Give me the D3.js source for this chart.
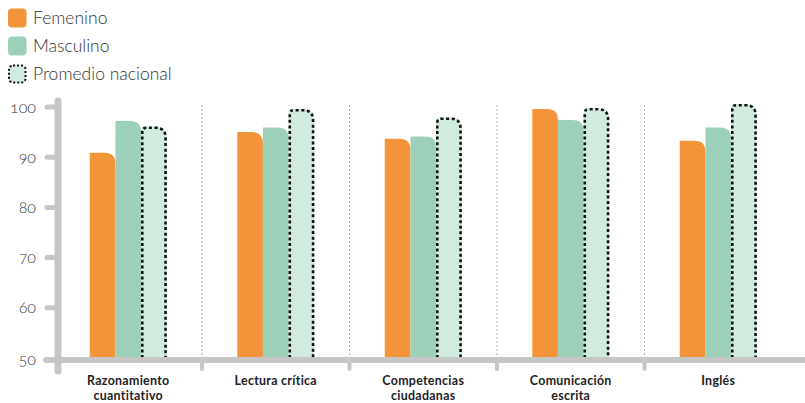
<!DOCTYPE html>
<html><head><meta charset="utf-8">
<script src="https://cdn.jsdelivr.net/npm/d3@7"></script>
<style>
body{margin:0;background:#fff;}
svg{display:block;}
.tick-label{font-family:Lato,sans-serif;font-weight:300;font-size:16px;fill:#333;font-variant-numeric:oldstyle-nums;}
.leg{font-family:Lato,sans-serif;font-weight:300;font-size:17.5px;fill:#333;}
.cat{font-family:Lato,sans-serif;font-weight:700;font-size:12.4px;fill:#222;letter-spacing:0.3px;}
</style></head>
<body>
<svg id="c" width="805" height="403"></svg>
<script>
const categories = [["Razonamiento","cuantitativo"],["Lectura crítica"],["Competencias","ciudadanas"],["Comunicación","escrita"],["Inglés"]];
const series = ["Femenino","Masculino","Promedio nacional"];
const femenino = [90.9, 95.0, 93.7, 99.6, 93.3];
const masculino = [97.2, 95.9, 94.1, 97.4, 95.9];
const promedio = [96.1, 99.6, 97.9, 99.8, 100.6];
const yTicks = [50, 60, 70, 80, 90, 100];
const colors = {"Femenino":"#F4943A","Masculino":"#9DD0B9","Promedio nacional":"#D2EBDF"};

const svg = d3.select("#c");
const catKeys = categories.map(c => c.join(" "));
const x = d3.scaleBand().domain(catKeys).range([54.5, 792]);
const bw = x.bandwidth();
const gW = 77;
const xs = d3.scaleBand().domain(series).range([(bw - gW)/2, (bw + gW)/2]);
const y = d3.scaleLinear().domain([50, 100]).range([358, 107]);
const gray = "#C6C6C6";

// dividers
const divs = catKeys.slice(1).map(k => x(k));
svg.selectAll(".div").data(divs).enter().append("line")
  .attr("x1", d => d).attr("x2", d => d).attr("y1", 105).attr("y2", 358)
  .attr("stroke", "#ADADAD").attr("stroke-width", 1).attr("stroke-dasharray", "2,2");
svg.selectAll(".divstub").data(divs).enter().append("line")
  .attr("x1", d => d).attr("x2", d => d).attr("y1", 360).attr("y2", 369)
  .attr("stroke", gray).attr("stroke-width", 4).attr("stroke-linecap", "round");

// bars
function barPath(x0, w, yTop, yBot, rl, rr, closed) {
  let p = `M${x0},${yBot} L${x0},${yTop + rl} Q${x0},${yTop} ${x0 + rl},${yTop} L${x0 + w - rr},${yTop} Q${x0 + w},${yTop} ${x0 + w},${yTop + rr} L${x0 + w},${yBot}`;
  return closed ? p + "Z" : p;
}
const rows = catKeys.map((k, i) => ({k, vals: [femenino[i], masculino[i], promedio[i]]}));
rows.forEach(r => {
  r.vals.forEach((v, j) => {
    const s = series[j];
    const x0 = x(r.k) + xs(s);
    const w = xs.bandwidth();
    const yt = y(v), yb = y(50);
    if (j < 2) {
      svg.append("path").attr("d", barPath(x0, w, yt, yb, 0, 11, true)).attr("fill", colors[s]);
    } else {
      svg.append("path").attr("d", barPath(x0, w, yt, yb, 4, 11, true)).attr("fill", colors[s]);
      svg.append("path").attr("d", barPath(x0 + 1.2, w - 2.4, yt + 1.2, yb, 4, 10, false))
        .attr("fill", "none").attr("stroke", "#111").attr("stroke-width", 2.6).attr("stroke-dasharray", "3,2.6");
    }
  });
});

// axes
svg.append("line").attr("x1", 46).attr("x2", 820).attr("y1", 360).attr("y2", 360)
  .attr("stroke", gray).attr("stroke-width", 6).attr("stroke-linecap", "round");
svg.append("line").attr("x1", 58).attr("x2", 58).attr("y1", 101).attr("y2", 371)
  .attr("stroke", gray).attr("stroke-width", 7).attr("stroke-linecap", "round");
svg.selectAll(".ystub").data(yTicks.slice(1)).enter().append("line")
  .attr("x1", 47).attr("x2", 58).attr("y1", d => y(d)).attr("y2", d => y(d))
  .attr("stroke", gray).attr("stroke-width", 5).attr("stroke-linecap", "round");
svg.selectAll(".tick-label").data(yTicks).enter().append("text")
  .attr("class", "tick-label").attr("x", 36).attr("y", d => d === 50 ? 359 : y(d))
  .attr("dy", "0.35em").attr("text-anchor", "end").text(d => d);

// category labels
categories.forEach((c, i) => {
  c.forEach((line, li) => {
    svg.append("text").attr("class", "cat").attr("text-anchor", "middle")
      .attr("x", x(catKeys[i]) + bw/2).attr("y", 384.5 + li * 15).text(line);
  });
});

// legend
const leg = svg.append("g");
series.forEach((s, i) => {
  const cy = 18 + i * 28;
  if (i < 2) {
    leg.append("rect").attr("x", 8).attr("y", cy - 9.5).attr("width", 18.5).attr("height", 19).attr("rx", 4)
      .attr("fill", colors[s]);
  } else {
    leg.append("rect").attr("x", 9).attr("y", cy - 8.5).attr("width", 16.5).attr("height", 17).attr("rx", 4)
      .attr("fill", colors[s]).attr("stroke", "#111").attr("stroke-width", 2).attr("stroke-dasharray", "2,2");
  }
  leg.append("text").attr("class", "leg").attr("x", 33).attr("y", cy).attr("dy", "0.35em").text(s);
});
</script>
</body></html>
